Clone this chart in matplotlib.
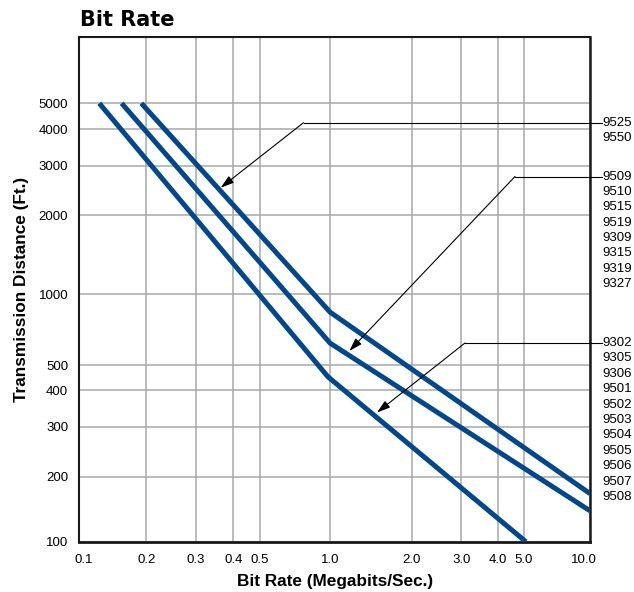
import numpy as np
import matplotlib
matplotlib.use("Agg")
import matplotlib.pyplot as plt
import matplotlib.transforms as mtrans

# ---------------- data ----------------
x_ticks = [0.1, 0.2, 0.3, 0.4, 0.5, 1.0, 2.0, 3.0, 4.0, 5.0, 10.0]
x_tick_labels = ["0.1", "0.2", "0.3", "0.4", "0.5", "1.0", "2.0", "3.0", "4.0", "5.0", "10.0"]
y_ticks = [100, 200, 300, 400, 500, 1000, 2000, 3000, 4000, 5000]
y_tick_labels = ["100", "200", "300", "400", "500", "1000", "2000", "3000", "4000", "5000"]

# three cable groups: (bit rate, distance) break points
upper_rate = [0.19, 1.0, 10.0]
upper_dist = [5000, 840, 167]
middle_rate = [0.155, 1.0, 10.0]
middle_dist = [5000, 620, 139]
lower_rate = [0.123, 0.98, 5.1]
lower_dist = [5000, 450, 100]

group_upper = ["9525", "9550"]
group_middle = ["9509", "9510", "9515", "9519", "9309", "9315", "9319", "9327"]
group_lower = ["9302", "9305", "9306", "9501", "9502", "9503", "9504", "9505",
               "9506", "9507", "9508"]

# ---------------- chart scale (printed chart's non-uniform log grid) ----------------
W, H = 634, 592
X_KNOT_VAL = np.log10([0.1, 0.2, 0.3, 0.4, 0.5, 1, 2, 3, 4, 5, 10])
X_KNOT_PX = np.array([79.3, 146.3, 195.7, 233.3, 260.0, 330.0, 411.7, 461.3, 498.0, 524.0, 590.0])
Y_KNOT_VAL = np.log10([100, 200, 300, 400, 500, 1000, 2000, 3000, 4000, 5000, 10000])
Y_KNOT_PX = np.array([541.7, 476.7, 426.7, 390.0, 365.0, 294.3, 215.3, 165.7, 129.0, 103.3, 37.3])


def _safe_log(v):
    v = np.asarray(v, dtype=float)
    return np.log10(np.where(v > 0, v, 1e-300))


def fx(v):
    return np.interp(_safe_log(v), X_KNOT_VAL, X_KNOT_PX)


def fx_inv(p):
    return 10 ** np.interp(np.asarray(p, float), X_KNOT_PX, X_KNOT_VAL)


def fy(v):
    return -np.interp(_safe_log(v), Y_KNOT_VAL, Y_KNOT_PX)


def fy_inv(p):
    return 10 ** np.interp(-np.asarray(p, float), Y_KNOT_PX[::-1], Y_KNOT_VAL[::-1])


def px(x, y):
    return (x / W, 1 - y / H)


FONT = ["Liberation Sans Narrow", "Liberation Sans", "DejaVu Sans"]
BOLD = ["Liberation Sans", "DejaVu Sans"]
BLUE = "#00478d"

fig = plt.figure(figsize=(W / 100, H / 100), dpi=100)
left, right, top, bottom = 79.3, 590.0, 37.3, 541.7
ax = fig.add_axes([left / W, 1 - bottom / H, (right - left) / W, (bottom - top) / H])

ax.set_xscale("function", functions=(fx, fx_inv))
ax.set_yscale("function", functions=(fy, fy_inv))
ax.set_xlim(0.1, 10)
ax.set_ylim(100, 10000)

ax.set_xticks(x_ticks)
ax.set_xticklabels(x_tick_labels, family=FONT, fontsize=9.5)
ax.set_yticks(y_ticks)
ax.set_yticklabels(y_tick_labels, family=FONT, fontsize=9.5)
ax.minorticks_off()
ax.tick_params(axis="x", length=0, pad=8.5)
ax.tick_params(axis="y", length=0, pad=8.0)
# nudge end labels like the printed chart
xl = ax.get_xticklabels()
xl[0].set_transform(xl[0].get_transform() + mtrans.ScaledTranslation(4 / 100, 0, fig.dpi_scale_trans))
xl[-1].set_transform(xl[-1].get_transform() + mtrans.ScaledTranslation(-6 / 100, 0, fig.dpi_scale_trans))

ax.grid(True, color="#a8a8a8", lw=1.1)
ax.set_axisbelow(True)
for s in ax.spines.values():
    s.set_color("#1a1a1a")
    s.set_linewidth(1.5)
ax.spines["bottom"].set_linewidth(2.0)
ax.spines["right"].set_linewidth(1.8)

for r, d in [(upper_rate, upper_dist), (middle_rate, middle_dist), (lower_rate, lower_dist)]:
    ax.plot(r, d, color=BLUE, lw=3.6, solid_capstyle="butt", solid_joinstyle="round",
            clip_on=True, zorder=3)

# labels
ax.set_xlabel("Bit Rate (Megabits/Sec.)", family=BOLD, fontsize=12.4, fontweight="bold",
              labelpad=6)
ax.set_ylabel("Transmission Distance (Ft.)", family=BOLD, fontsize=12.4, fontweight="bold",
              labelpad=7)
fig.text(*px(80.5, 19.5), "Bit Rate", family=["DejaVu Sans"], fontsize=15, fontweight="bold",
         ha="left", va="center")

# right side model lists
groups = [
    (group_upper, 122.7, (303.5, 122.7), (220.7, 187.7)),
    (group_middle, 176.5, (515.0, 176.5), (349.3, 351.0)),
    (group_lower, 343.0, (465.0, 343.0), (377.0, 412.5)),
]
step = 15.4
for names, y0, corner, tip in groups:
    for i, n in enumerate(names):
        fig.text(*px(602.5, y0 + i * step), n, family=FONT, fontsize=9.5,
                 ha="left", va="center")
    fig.add_artist(plt.Line2D([corner[0] / W, 602 / W], [1 - y0 / H, 1 - y0 / H],
                              transform=fig.transFigure, color="black", lw=0.8))
    ax.annotate("", xy=px(*tip), xycoords="figure fraction",
                xytext=px(*corner), textcoords="figure fraction",
                arrowprops=dict(arrowstyle="-|>,head_length=0.8,head_width=0.25",
                                color="black", lw=0.8, shrinkA=0, shrinkB=0),
                zorder=5)

fig.savefig("out.png", dpi=100)
